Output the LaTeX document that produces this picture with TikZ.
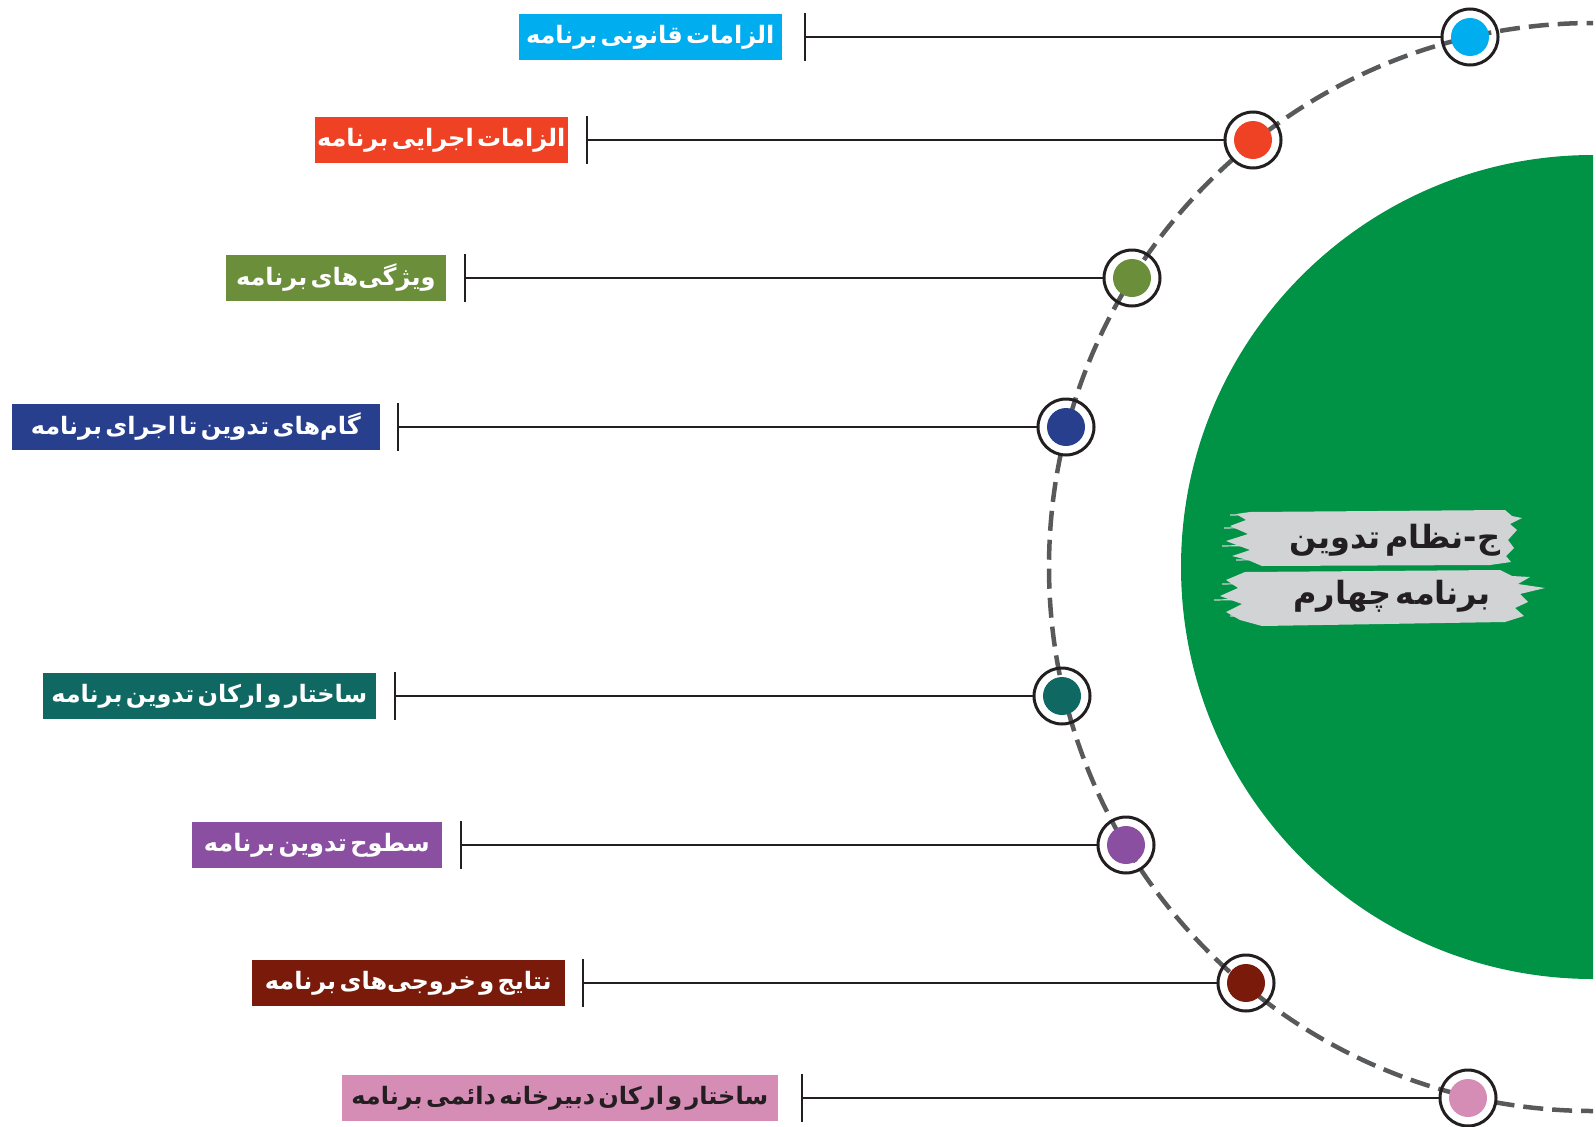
\documentclass[tikz,border=0pt]{standalone}
\usepackage{fontspec}
\newfontfamily\farsifont[Script=Arabic]{DejaVu Sans}
\newfontfamily\farsitight[Script=Arabic, WordSpace=0.4]{DejaVu Sans}
\TeXXeTstate=1
\definecolor{ringcol}{HTML}{231F20}
\definecolor{dashcol}{HTML}{58595B}
\definecolor{discgreen}{HTML}{009245}
\definecolor{brushgray}{HTML}{D1D3D4}
\definecolor{lblue}{HTML}{00AEEF}
\definecolor{lred}{HTML}{EF4123}
\definecolor{lolive}{HTML}{6B8E3A}
\definecolor{lnavy}{HTML}{283F8E}
\definecolor{lteal}{HTML}{106862}
\definecolor{lpurple}{HTML}{8A4FA0}
\definecolor{lmaroon}{HTML}{7A1A0A}
\definecolor{lpink}{HTML}{D68DB5}
\tikzset{
  labelbox/.style={fill=#1, minimum height=46pt, inner sep=0pt,
    font=\farsitight\bfseries\fontsize{24}{28}\selectfont},
  ring/.style={circle, draw=ringcol, line width=3pt, minimum size=56pt, inner sep=0pt},
  dotfill/.style={circle, fill=#1, minimum size=38pt, inner sep=0pt},
  tickline/.style={draw=ringcol, line width=2.5pt},
  link/.style={draw=ringcol, line width=2.5pt},
  titletext/.style={text=ringcol, font=\farsifont\bfseries\fontsize{32}{36}\selectfont}
}
\begin{document}
\begin{tikzpicture}[x=1pt,y=-1pt]
\useasboundingbox (0,0) rectangle (1596,1127);
\clip (0,0) rectangle (1593,1127);
\def\cx{1593} \def\cy{567}

\fill[discgreen] (\cx,\cy) circle (412pt);
\fill[brushgray] (1250,512) -- (1505,510) -- (1512,516) -- (1522,518) -- (1510,524) -- (1517,530)
  -- (1508,540) -- (1514,548) -- (1506,556) -- (1511,562) -- (1490,565) -- (1262,566) -- (1248,560)
  -- (1232,556) -- (1250,550) -- (1226,541) -- (1248,534) -- (1230,526) -- (1246,520) -- (1236,514) -- cycle;
\fill[brushgray] (1245,572) -- (1500,570) -- (1512,576) -- (1530,577) -- (1518,584) -- (1545,588)
  -- (1520,594) -- (1528,602) -- (1515,608) -- (1524,616) -- (1505,622) -- (1262,626) -- (1240,620)
  -- (1226,612) -- (1242,604) -- (1220,596) -- (1238,588) -- (1226,580) -- cycle;
\foreach \a/\b in {515/1230,528/1224,546/1222,560/1236,584/1222,600/1214,616/1230}
  \draw[brushgray, line width=1.2pt] (\b,\a) -- ++(60,-1);
\node[titletext] (title1) at (1395,540) {\beginR ج-نظام تدوین\endR};
\node[titletext] (title2) at (1392,596) {\beginR برنامه چهارم\endR};

\draw[dashcol, line width=4.5pt, dash pattern=on 20pt off 9pt] (\cx,\cy) circle (544pt);

\foreach \i/\y/\bl/\br/\tx/\dx/\col/\tcol/\txt in {
  1/37/519/782/805/1470/lblue/white/الزامات قانونی برنامه,
  2/140/315/568/587/1253/lred/white/الزامات اجرایی برنامه,
  3/278/226/446/465/1132/lolive/white/ویژگی‌های برنامه,
  4/427/12/380/398/1066/lnavy/white/گام‌های تدوین تا اجرای برنامه,
  5/696/43/376/395/1062/lteal/white/ساختار و ارکان تدوین برنامه,
  6/845/192/442/461/1126/lpurple/white/سطوح تدوین برنامه,
  7/983/252/565/583/1246/lmaroon/white/نتایج و خروجی‌های برنامه,
  8/1098/342/778/802/1468/lpink/ringcol/ساختار و ارکان دبیرخانه دائمی برنامه}{
  \node[ring] (ring\i) at (\dx,\y) {};
  \node[dotfill=\col] (dot\i) at (ring\i) {};
  \coordinate (tick\i) at (\tx,\y);
  \draw[tickline] ([yshift=24pt]tick\i) -- ([yshift=-24pt]tick\i);
  \draw[link] (tick\i) -- (ring\i.west);
  \node[labelbox=\col, text=\tcol, minimum width=\br-\bl, anchor=east] (lab\i) at (\br,\y) {\beginR\txt\endR};
}
\end{tikzpicture}
\end{document}
